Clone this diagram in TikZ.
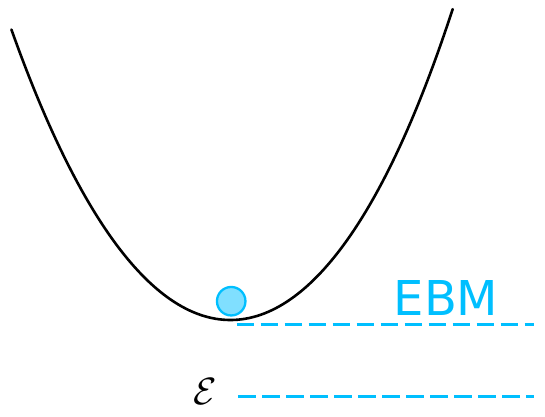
\RequirePackage{fix-cm}
\documentclass[tikz,border=0pt]{standalone}
\usepackage{fontspec}
\newfontfamily\dejavu{DejaVu Sans}
\definecolor{ebmblue}{RGB}{0,191,255}
\definecolor{ballfill}{RGB}{128,223,255}
\tikzset{
  potential/.style={black, line width=2.6pt, line cap=round},
  level/.style={ebmblue, line width=3pt, dash pattern=on 17.7pt off 6.3pt},
  ball/.style={circle, draw=ebmblue, fill=ballfill, line width=2.3pt, minimum size=28.5pt, inner sep=0pt},
  ebmlabel/.style={text=ebmblue, inner sep=0pt, font=\dejavu\fontsize{48}{52}\selectfont},
  epslabel/.style={inner sep=0pt, font=\fontsize{38}{40}\selectfont}
}
\begin{document}
\begin{tikzpicture}[x=1pt, y=-1pt]
\useasboundingbox (0,0) rectangle (545,416);
% energy landscape
\draw[potential] plot[domain=-2.19:0, samples=60, variable=\u]
  ({230.4+100*\u}, {320-57.02*\u*\u-0.74*\u*\u*\u*\u})
  -- plot[domain=0:2.223, samples=60, variable=\u]
  ({230.4+100*\u}, {320-57.02*\u*\u-1.196*\u*\u*\u*\u});
% ball at the minimum
\node[ball] (ball) at (231.2,301.2) {};
% labels
\node[ebmlabel, anchor=base west] (ebm) at (393.5,315) {EBM};
\node[epslabel, anchor=base] (eps) at (205.5,404) {$\mathcal{E}$};
% energy levels
\coordinate (ebmL) at (236.7,324);
\coordinate (ebmR) at (534,324);
\coordinate (epsL) at (238.3,396);
\coordinate (epsR) at (534,396);
\draw[level] (ebmL) -- (ebmR);
\draw[level] (epsL) -- (epsR);
\end{tikzpicture}
\end{document}
